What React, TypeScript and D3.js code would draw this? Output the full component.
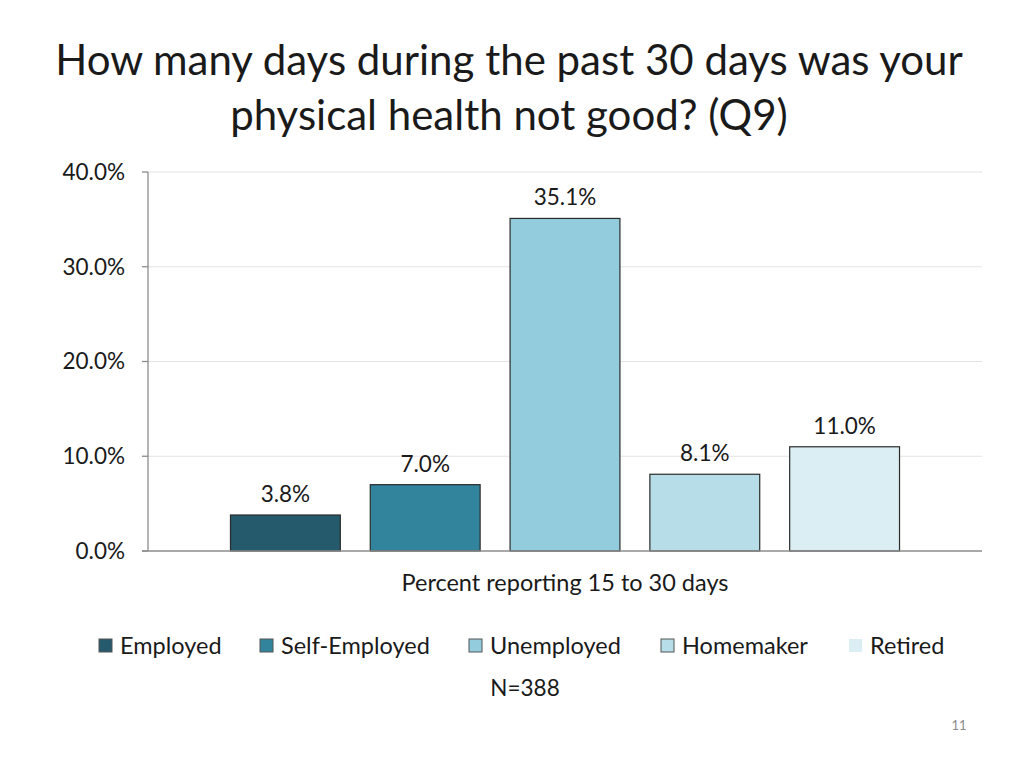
import React from "react";
import * as d3 from "d3";

const titleLines = ["How many days during the past 30 days was your", "physical health not good? (Q9)"];
const category = "Percent reporting 15 to 30 days";
const seriesNames = ["Employed", "Self-Employed", "Unemployed", "Homemaker", "Retired"];
const seriesValues = [3.8, 7.0, 35.1, 8.1, 11.0];
const seriesColors = ["#245a6b", "#31849b", "#93cddd", "#b7dee8", "#dbeef4"];
const yTicks = [0, 10, 20, 30, 40];
const legendX = [99, 260, 469, 661, 849];
const footnote = "N=388";
const pageNumber = "11";

const FONT = "Lato, 'Open Sans', sans-serif";

export default function App() {
  const W = 1024, H = 768;
  const left = 148, right = 982, top = 172, bottom = 551;
  const y = d3.scaleLinear().domain([0, 40]).range([bottom, top]);
  const x0 = d3.scaleBand().domain([category]).range([left, right]).paddingInner(0).paddingOuter(0.0966);
  const x1 = d3.scaleBand().domain(seriesNames).range([0, x0.bandwidth()]).paddingInner(0.2143).paddingOuter(0.107);
  const gx = x0(category)!;
  return (
    <svg width={W} height={H} style={{ position: "absolute", left: 0, top: 0, background: "#fff" }}>
      <rect width={W} height={H} fill="#fff" />
      {titleLines.map((t, i) => (
        <text key={i} x={509} y={75 + i * 55} textAnchor="middle" fontFamily={FONT} fontSize={42} fill="#1a1a1a">{t}</text>
      ))}
      {yTicks.slice(1).map((t) => (
        <line key={t} x1={left} x2={right} y1={y(t)} y2={y(t)} stroke="#e3e3e3" strokeWidth={1} />
      ))}
      <line x1={left} x2={left} y1={top} y2={bottom} stroke="#8c8c8c" strokeWidth={1.3} />
      {yTicks.map((t) => (
        <g key={t}>
          <line x1={left - 6} x2={left} y1={y(t)} y2={y(t)} stroke="#8c8c8c" strokeWidth={1.3} />
          <text x={125} y={y(t)} dy="0.35em" textAnchor="end" fontFamily={FONT} fontSize={22.5} fill="#1a1a1a">{t.toFixed(1)}%</text>
        </g>
      ))}
      {seriesNames.map((s, i) => {
        const bx = gx + x1(s)!;
        const v = seriesValues[i];
        return (
          <g key={s}>
            <rect x={bx} y={y(v)} width={x1.bandwidth()} height={bottom - y(v)} fill={seriesColors[i]} stroke="#2b2b2b" strokeWidth={1.2} />
            <text x={bx + x1.bandwidth() / 2} y={y(v) - 13} textAnchor="middle" fontFamily={FONT} fontSize={22.5} fill="#1a1a1a">{v.toFixed(1)}%</text>
          </g>
        );
      })}
      <line x1={left - 6} x2={right} y1={bottom} y2={bottom} stroke="#8c8c8c" strokeWidth={1.3} />
      <text x={565} y={591} textAnchor="middle" fontFamily={FONT} fontSize={23.5} fill="#1a1a1a">{category}</text>
      {seriesNames.map((s, i) => (
        <g key={s}>
          <rect x={legendX[i]} y={639} width={13} height={13} fill={seriesColors[i]} stroke={i < 4 ? "#555" : "none"} strokeWidth={1} />
          <text x={legendX[i] + 21} y={646} dy="0.35em" fontFamily={FONT} fontSize={23.5} fill="#1a1a1a">{s}</text>
        </g>
      ))}
      <text x={525} y={696} textAnchor="middle" fontFamily={FONT} fontSize={22.5} fill="#1a1a1a">{footnote}</text>
      <text x={959} y={730} textAnchor="middle" fontFamily={FONT} fontSize={13} fill="#8c8c8c">{pageNumber}</text>
    </svg>
  );
}
